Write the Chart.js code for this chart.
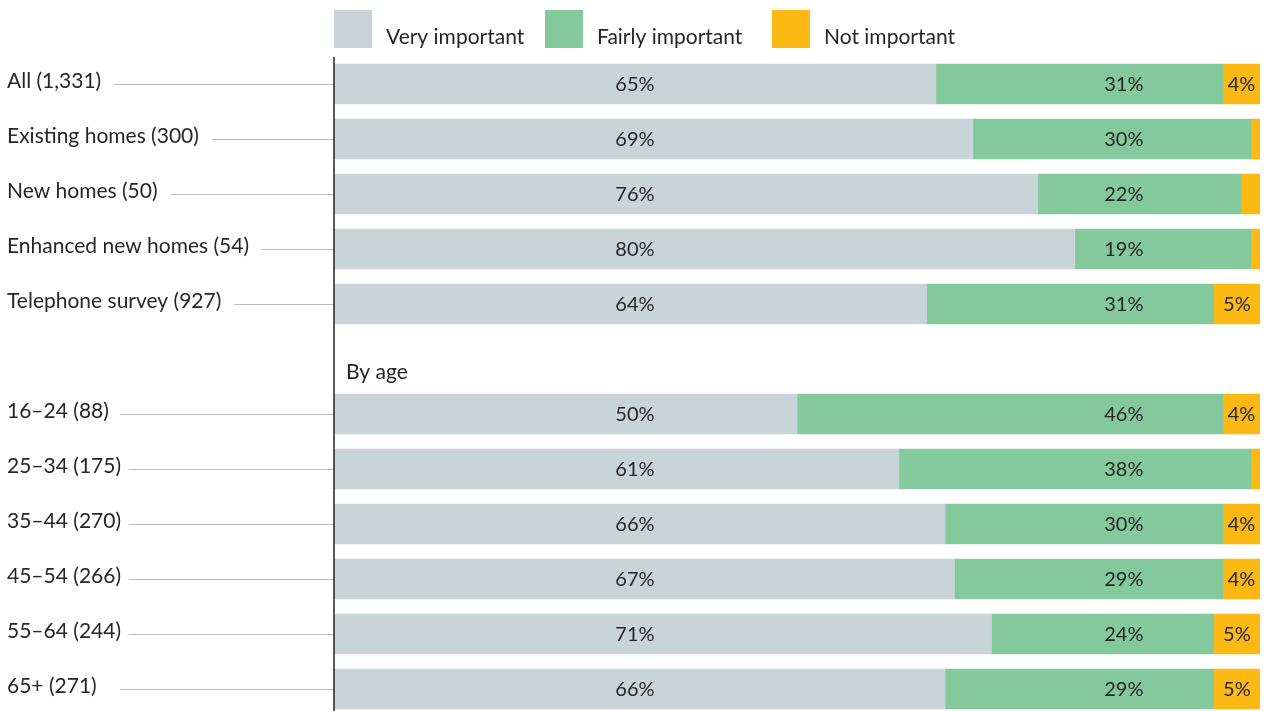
<!DOCTYPE html>
<html>
<head>
<meta charset="utf-8">
<script src="https://cdn.jsdelivr.net/npm/chart.js@4"></script>
<style>
  html, body { margin: 0; padding: 0; background: #fff; overflow: hidden; }
  #wrap { width: 1266px; height: 717px; }
</style>
</head>
<body>
<div id="wrap"><canvas id="chart" width="1266" height="717"></canvas></div>
<script>
// rows, with one empty slot before the age breakdown
const categories = [
  'All (1,331)',
  'Existing homes (300)',
  'New homes (50)',
  'Enhanced new homes (54)',
  'Telephone survey (927)',
  '',
  '16–24 (88)',
  '25–34 (175)',
  '35–44 (270)',
  '45–54 (266)',
  '55–64 (244)',
  '65+ (271)'
];
const sectionTitle = 'By age';
const seriesNames = ['Very important', 'Fairly important', 'Not important'];
const veryImportant   = [65, 69, 76, 80, 64, null, 50, 61, 66, 67, 71, 66];
const fairlyImportant = [31, 30, 22, 19, 31, null, 46, 38, 30, 29, 24, 29];
const notImportant    = [4, 1, 2, 1, 5, null, 4, 1, 4, 4, 5, 5];
const colors = ['#C9D4D9', '#84C99C', '#FCB914'];
// value labels sit in fixed columns (axis units); null = centre of segment
const labelColumns = [32.5, 85.3, null];
// legend item offsets from the plot's left edge
const legendOffsets = [0, 211, 438];

const FONT = 'Lato, "Noto Sans", sans-serif';
const TEXT = '#262626';

const decorations = {
  id: 'decorations',
  afterDraw(chart) {
    const { ctx, chartArea } = chart;
    const x = chart.scales.x;
    const y = chart.scales.y;
    const gap = categories.indexOf('');
    ctx.save();

    // legend
    ctx.font = '21px ' + FONT;
    ctx.textBaseline = 'middle';
    chart.data.datasets.forEach((ds, i) => {
      const lx = chartArea.left + legendOffsets[i];
      ctx.fillStyle = ds.backgroundColor;
      ctx.fillRect(lx, 10, 38, 38);
      ctx.fillStyle = TEXT;
      ctx.textAlign = 'left';
      ctx.fillText(ds.label, lx + 52, 37);
    });

    // row labels with leader lines
    ctx.font = '21px ' + FONT;
    categories.forEach((c, i) => {
      const cy = y.getPixelForValue(i);
      if (!c) {
        ctx.fillStyle = TEXT;
        ctx.textAlign = 'left';
        ctx.fillText(sectionTitle, chartArea.left + 12, cy + 13);
        return;
      }
      ctx.fillStyle = TEXT;
      ctx.textAlign = 'left';
      ctx.fillText(c, 7, cy - 3);
      const w = ctx.measureText(c).width;
      const start = i > gap ? Math.max(120, 7 + w + 8) : 7 + w + 13;
      ctx.strokeStyle = '#bbb';
      ctx.lineWidth = 1;
      ctx.beginPath();
      ctx.moveTo(start, Math.round(cy) + 0.5);
      ctx.lineTo(chartArea.left, Math.round(cy) + 0.5);
      ctx.stroke();
    });

    // value labels
    ctx.font = '20px ' + FONT;
    ctx.textAlign = 'center';
    chart.data.datasets.forEach((ds, di) => {
      chart.getDatasetMeta(di).data.forEach((bar, i) => {
        const v = ds.data[i];
        if (v == null || v < 3) return;
        const col = labelColumns[di];
        const cx = col == null ? (bar.x + bar.base) / 2 : x.getPixelForValue(col);
        ctx.fillStyle = TEXT;
        ctx.fillText(v + '%', cx, bar.y + 1);
      });
    });

    // axis line
    ctx.strokeStyle = '#222';
    ctx.lineWidth = 1.5;
    ctx.beginPath();
    ctx.moveTo(chartArea.left, 57);
    ctx.lineTo(chartArea.left, chart.height);
    ctx.stroke();
    ctx.restore();
  }
};

new Chart(document.getElementById('chart'), {
  type: 'bar',
  data: {
    labels: categories,
    datasets: [veryImportant, fairlyImportant, notImportant].map((d, i) => ({
      label: seriesNames[i],
      data: d,
      backgroundColor: colors[i],
      borderWidth: 0,
      barThickness: 40
    }))
  },
  options: {
    indexAxis: 'y',
    responsive: false,
    animation: false,
    layout: { padding: { left: 334, right: 6, top: 56.5, bottom: 0.5 } },
    scales: {
      x: { stacked: true, min: 0, max: 100, display: false },
      y: { stacked: true, display: false }
    },
    plugins: {
      legend: { display: false },
      tooltip: { enabled: false }
    }
  },
  plugins: [decorations]
});
</script>
</body>
</html>
